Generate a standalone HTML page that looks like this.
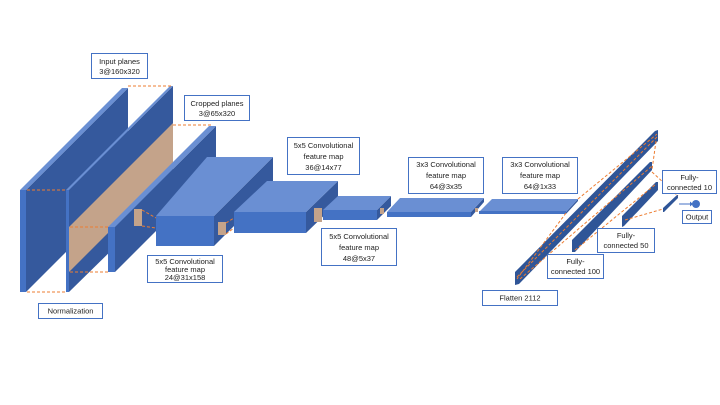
<!DOCTYPE html>
<html><head><meta charset="utf-8"><style>
html,body{margin:0;padding:0;background:#fff;}
svg{display:block;font-family:"Liberation Sans",sans-serif;}
</style></head><body>
<svg width="720" height="405" viewBox="0 0 720 405" xmlns="http://www.w3.org/2000/svg">
<defs><style>
.f{fill:#4472C4}.t{fill:#6A8FD3}.s{fill:#35599D}.d{fill:#2F5597}
.o{stroke:#ED7D31;stroke-width:1;stroke-dasharray:3,2;fill:none}
.b{fill:#fff;stroke:#4472C4;stroke-width:1}
text{font-size:7.5px;fill:#222;text-anchor:middle}
</style></defs>

<!-- Normalization slab -->
<polygon class="s" points="26,190 128,88 128,190 26,292"/>
<polygon class="t" points="20,190 26,190 128,88 122,88"/>
<rect class="f" x="20" y="190" width="6" height="102"/>

<!-- Input planes slab -->
<polygon class="s" points="69,190 173,86 173,190 69,292"/>
<polygon class="t" points="66,190 69,190 173,86 170,86"/>
<rect class="f" x="66" y="190" width="3" height="102"/>
<!-- brown crop area -->
<polygon fill="#C4A38A" points="69,227 173,123 173,168 69,272"/>

<!-- Cropped slab -->
<polygon class="s" points="115,227 216,126 216,171 115,272"/>
<polygon class="t" points="108,227 115,227 216,126 209,126"/>
<rect class="f" x="108" y="227" width="7" height="45"/>
<rect fill="#C4A38A" x="134" y="209" width="8" height="17"/>

<!-- orange dashed -->
<line class="o" x1="27" y1="190" x2="67" y2="190"/>
<line class="o" x1="27" y1="292" x2="67" y2="292"/>
<line class="o" x1="128" y1="86" x2="172" y2="86"/>
<line class="o" x1="70" y1="227" x2="108" y2="227"/>
<line class="o" x1="70" y1="272" x2="108" y2="272"/>
<line class="o" x1="173" y1="125" x2="213" y2="125"/>
<line class="o" x1="142" y1="210" x2="156" y2="218"/>
<line class="o" x1="142" y1="226" x2="156" y2="228"/>

<!-- Conv1 -->
<polygon class="s" points="214,216 273,157 273,187 214,246"/>
<polygon class="t" points="156,216 214,216 273,157 207,157"/>
<rect class="f" x="156" y="216" width="58" height="30"/>
<rect fill="#C4A38A" x="218" y="222" width="8" height="13"/>
<line class="o" x1="226" y1="223" x2="234" y2="218"/>
<line class="o" x1="226" y1="234" x2="234" y2="228"/>

<!-- Conv2 -->
<polygon class="s" points="306,212 338,181 338,202 306,233"/>
<polygon class="t" points="234,212 306,212 338,181 267,181"/>
<rect class="f" x="234" y="212" width="72" height="21"/>
<rect fill="#C4A38A" x="314" y="208" width="8" height="14"/>

<!-- Conv3 -->
<polygon class="s" points="377,210 391,196 391,206 377,220"/>
<polygon class="t" points="323,210 377,210 391,196 338,196"/>
<rect class="f" x="323" y="210" width="54" height="10"/>
<rect fill="#C4A38A" x="380" y="208" width="4" height="6"/>

<!-- Conv4 -->
<polygon class="s" points="471,212 484,198 484,202 471,217"/>
<polygon class="t" points="387,212 471,212 484,198 400,198"/>
<rect class="f" x="387" y="212" width="84" height="5"/>
<rect fill="#C4A38A" x="475" y="208" width="3" height="4"/>

<!-- Conv5 -->
<polygon class="s" points="566,212 578,199 578,201 566,214"/>
<polygon class="t" points="479,212 566,212 578,199 492,199"/>
<rect class="f" x="479" y="211" width="87" height="3"/>

<!-- Flatten bar -->
<polygon class="d" points="515,272 655,131 658,130 658,141 519,284 515,285"/>
<!-- FC100 -->
<polygon class="d" points="572,240 650,162 652,162 652,170 575,252 572,252"/>
<!-- FC50 -->
<polygon class="d" points="622,216 656,182 658,182 658,190 624,226 622,227"/>
<!-- FC10 -->
<polygon class="d" points="663,208 677,195 678,195 678,198 664,212 663,212"/>

<!-- FC dashed -->
<line class="o" x1="517" y1="277" x2="657" y2="137"/>
<line class="o" x1="566" y1="213" x2="517" y2="279"/>
<line class="o" x1="578" y1="199" x2="657" y2="134"/>
<line class="o" x1="520" y1="279" x2="652" y2="166"/>
<line class="o" x1="656" y1="141" x2="652" y2="170"/>
<line class="o" x1="652" y1="172" x2="678" y2="196"/>
<line class="o" x1="575" y1="250" x2="656" y2="184"/>
<line class="o" x1="625" y1="220" x2="663" y2="209"/>
<line stroke="#4472C4" stroke-width="1" x1="679" y1="204" x2="690" y2="204"/>
<polygon fill="#4472C4" points="690,201.5 693,204 690,206.5"/>
<circle cx="696" cy="204" r="4" fill="#4472C4"/>

<!-- Labels -->
<rect class="b" x="91.5" y="53.5" width="56" height="25"/>
<text x="119.5" y="64">Input planes</text><text x="119.5" y="74">3@160x320</text>

<rect class="b" x="184.5" y="95.5" width="65" height="25"/>
<text x="217" y="106">Cropped planes</text><text x="217" y="116">3@65x320</text>

<rect class="b" x="287.5" y="137.5" width="72" height="37"/>
<text x="323.5" y="148">5x5 Convolutional</text><text x="323.5" y="159">feature map</text><text x="323.5" y="170">36@14x77</text>

<rect class="b" x="147.5" y="255.5" width="75" height="27"/>
<text x="185" y="264">5x5 Convolutional</text><text x="185" y="272">feature map</text><text x="185" y="280">24@31x158</text>

<rect class="b" x="38.5" y="303.5" width="64" height="15"/>
<text x="70.5" y="313.5">Normalization</text>

<rect class="b" x="321.5" y="228.5" width="75" height="37"/>
<text x="359" y="239">5x5 Convolutional</text><text x="359" y="250">feature map</text><text x="359" y="261">48@5x37</text>

<rect class="b" x="408.5" y="157.5" width="75" height="36"/>
<text x="446" y="167">3x3 Convolutional</text><text x="446" y="178">feature map</text><text x="446" y="189">64@3x35</text>

<rect class="b" x="502.5" y="157.5" width="75" height="36"/>
<text x="540" y="167">3x3 Convolutional</text><text x="540" y="178">feature map</text><text x="540" y="189">64@1x33</text>

<rect class="b" x="482.5" y="290.5" width="75" height="15"/>
<text x="520" y="300.5">Flatten 2112</text>

<rect class="b" x="547.5" y="254.5" width="56" height="24"/>
<text x="575.5" y="264">Fully-</text><text x="575.5" y="274">connected 100</text>

<rect class="b" x="597.5" y="228.5" width="57" height="24"/>
<text x="626" y="238">Fully-</text><text x="626" y="248">connected 50</text>

<rect class="b" x="662.5" y="170.5" width="54" height="23"/>
<text x="689.5" y="180">Fully-</text><text x="689.5" y="190">connected 10</text>

<rect class="b" x="682.5" y="210.5" width="29" height="13"/>
<text x="697" y="219.5">Output</text>
</svg>
</body></html>
